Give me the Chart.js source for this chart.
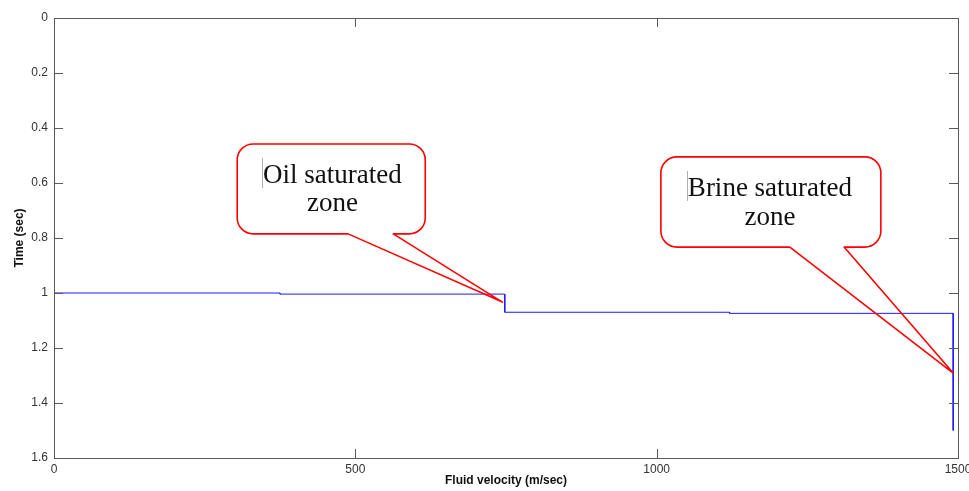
<!DOCTYPE html>
<html>
<head>
<meta charset="utf-8">
<script src="https://cdn.jsdelivr.net/npm/chart.js@4.4.0/dist/chart.umd.min.js"></script>
<style>
html, body { margin: 0; padding: 0; background: #fff; }
#wrap { width: 969px; height: 491px; position: relative; }
</style>
</head>
<body>
<div id="wrap"><canvas id="chart"></canvas></div>
<script>
// step profile: fluid velocity (m/sec) against time (sec)
const velocity = [0, 375, 375, 748, 748, 1121, 1121, 1492, 1492];
const timeSec  = [1.0, 1.0, 1.004, 1.004, 1.07, 1.07, 1.074, 1.074, 1.5];

const xTicks = [0, 500, 1000, 1500];
const yTicks = [0, 0.2, 0.4, 0.6, 0.8, 1, 1.2, 1.4, 1.6];

const xTitle = 'Fluid velocity (m/sec)';
const yTitle = 'Time (sec)';

// callouts, placed in data units so they follow the axes
const calloutLines = [['Oil saturated', 'zone'], ['Brine saturated', 'zone']];
const calloutTips  = [[744, 1.033], [1492, 1.291]];
const calloutBoxes = [[304, 616, 0.458, 0.785], [1007, 1372, 0.505, 0.833]];
const calloutBases = [[488, 563], [1221, 1311]];
const calloutTextX = [462, 1188];
const calloutTextY = [[0.600, 0.702], [0.647, 0.753]];

(function() {
    'use strict';

    const points = velocity.map((v, i) => ({ x: v, y: timeSec[i] }));
    const axisGray = '#5a5a5a';

    // matlab style box with inward ticks + speech bubbles
    const frameAndCallouts = {
        id: 'frameAndCallouts',
        afterDatasetsDraw(chart) {
            const { ctx, chartArea: a, scales: { x, y } } = chart;
            ctx.save();

            ctx.strokeStyle = axisGray;
            ctx.lineWidth = 1;
            ctx.strokeRect(a.left + 0.5, a.top + 0.5, a.right - a.left, a.bottom - a.top);

            const tl = 9;
            ctx.beginPath();
            xTicks.forEach(v => {
                const px = Math.round(x.getPixelForValue(v)) + 0.5;
                ctx.moveTo(px, a.bottom); ctx.lineTo(px, a.bottom - tl);
                ctx.moveTo(px, a.top); ctx.lineTo(px, a.top + tl);
            });
            yTicks.forEach(v => {
                const py = Math.round(y.getPixelForValue(v)) + 0.5;
                ctx.moveTo(a.left, py); ctx.lineTo(a.left + tl, py);
                ctx.moveTo(a.right, py); ctx.lineTo(a.right - tl, py);
            });
            ctx.stroke();

            calloutBoxes.forEach((bx, i) => {
                const L = x.getPixelForValue(bx[0]), R = x.getPixelForValue(bx[1]);
                const T = y.getPixelForValue(bx[2]), B = y.getPixelForValue(bx[3]);
                const b1 = x.getPixelForValue(calloutBases[i][0]);
                const b2 = x.getPixelForValue(calloutBases[i][1]);
                const tx = x.getPixelForValue(calloutTips[i][0]);
                const ty = y.getPixelForValue(calloutTips[i][1]);
                const r = 16;

                ctx.beginPath();
                ctx.roundRect(L, T, R - L, B - T, r);
                ctx.fillStyle = '#ffffff';
                ctx.fill();

                ctx.beginPath();
                ctx.moveTo(b1, B);
                ctx.lineTo(L + r, B);
                ctx.arcTo(L, B, L, B - r, r);
                ctx.lineTo(L, T + r);
                ctx.arcTo(L, T, L + r, T, r);
                ctx.lineTo(R - r, T);
                ctx.arcTo(R, T, R, T + r, r);
                ctx.lineTo(R, B - r);
                ctx.arcTo(R, B, R - r, B, r);
                ctx.lineTo(b2, B);
                ctx.lineTo(tx, ty);
                ctx.closePath();
                ctx.strokeStyle = '#ff0000';
                ctx.lineWidth = 1.6;
                ctx.lineJoin = 'round';
                ctx.stroke();

                ctx.font = '27px "Liberation Serif", "Times New Roman", serif';
                ctx.textAlign = 'center';
                ctx.textBaseline = 'alphabetic';
                ctx.fillStyle = '#111111';
                const cx = x.getPixelForValue(calloutTextX[i]);
                calloutLines[i].forEach((txt, j) => {
                    ctx.fillText(txt, cx, y.getPixelForValue(calloutTextY[i][j]));
                });

                // faint text cursor left of first line
                const w = ctx.measureText(calloutLines[i][0]).width;
                const cy = y.getPixelForValue(calloutTextY[i][0]);
                ctx.strokeStyle = '#b0b0b0';
                ctx.lineWidth = 1;
                ctx.beginPath();
                ctx.moveTo(Math.round(cx - w / 2) - 0.5, cy - 25);
                ctx.lineTo(Math.round(cx - w / 2) - 0.5, cy + 5);
                ctx.stroke();
            });

            ctx.restore();
        }
    };

    new Chart(document.getElementById('chart'), {
        type: 'scatter',
        data: {
            datasets: [{
                data: points,
                showLine: true,
                borderColor: '#1a1aff',
                borderWidth: 1,
                pointRadius: 0,
                tension: 0
            }]
        },
        options: {
            responsive: true,
            maintainAspectRatio: false,
            animation: false,
            layout: { padding: { top: 18, right: 11, left: 0, bottom: 0 } },
            plugins: { legend: { display: false }, tooltip: { enabled: false } },
            scales: {
                x: {
                    type: 'linear', min: 0, max: 1500,
                    afterBuildTicks: s => { s.ticks = xTicks.map(v => ({ value: v })); },
                    afterFit: s => { s.height = 33; s.paddingLeft = 0; s.paddingRight = 0; },
                    grid: { display: false, drawTicks: false },
                    border: { display: false },
                    ticks: {
                        maxRotation: 0, padding: 4, color: '#333',
                        font: { family: '"Liberation Sans Narrow", Arial, sans-serif', size: 12 },
                        callback: v => String(v)
                    },
                    title: {
                        display: true, text: xTitle, color: '#111',
                        font: { family: 'Arial, "Liberation Sans", sans-serif', size: 12, weight: 'bold' },
                        padding: { top: 0, bottom: 3 }
                    }
                },
                y: {
                    type: 'linear', min: 0, max: 1.6, reverse: true,
                    afterBuildTicks: s => { s.ticks = yTicks.map(v => ({ value: v })); },
                    afterFit: s => { s.width = 54; s.paddingTop = 0; s.paddingBottom = 0; },
                    grid: { display: false, drawTicks: false },
                    border: { display: false },
                    ticks: {
                        padding: 6, color: '#333',
                        font: { family: 'Arial, "Liberation Sans", sans-serif', size: 12 },
                        callback: v => String(v)
                    },
                    title: {
                        display: true, text: yTitle, color: '#111',
                        font: { family: 'Arial, "Liberation Sans", sans-serif', size: 12, weight: 'bold' },
                        padding: { top: 12, bottom: 0 }
                    }
                }
            }
        },
        plugins: [frameAndCallouts]
    });
})();
</script>
</body>
</html>
